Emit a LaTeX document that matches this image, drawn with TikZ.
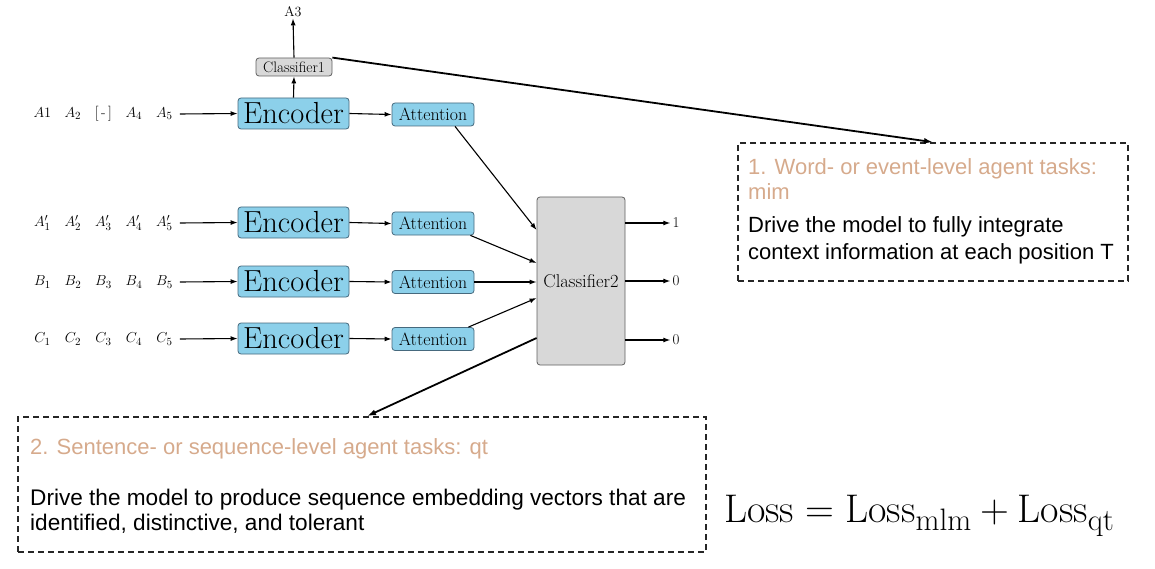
\documentclass[tikz,border=0pt]{standalone}
\usepackage{fontspec}
\newfontfamily\arialf{Liberation Sans}
\usetikzlibrary{arrows.meta,calc}
\definecolor{encblue}{RGB}{140,208,234}
\definecolor{encline}{RGB}{70,105,125}
\definecolor{boxgray}{RGB}{216,216,216}
\definecolor{grayline}{RGB}{95,95,95}
\definecolor{titlecol}{RGB}{214,170,140}
\newcommand\inptok[1]{\makebox[30.5pt]{#1}}
\newcommand\losssub[1]{\raisebox{-0.2em}{\fontsize{31}{33}\selectfont #1}}
\begin{document}
\begin{tikzpicture}[x=1pt,y=-1pt,
  arr/.style={-{Latex[length=7pt,width=5pt]}, line width=1.1pt},
  bigarr/.style={-{Latex[length=9pt,width=6pt]}, line width=1.8pt},
  encbox/.style={draw=encline, fill=encblue, rounded corners=3pt, line width=0.8pt, minimum width=111pt, minimum height=31pt, inner sep=0pt, font=\fontsize{30.5}{32}\selectfont},
  attbox/.style={draw=encline, fill=encblue, rounded corners=3pt, line width=0.8pt, minimum width=82pt, minimum height=23pt, inner sep=0pt, font=\fontsize{17.8}{19}\selectfont},
  clsbox/.style={draw=grayline, fill=boxgray, rounded corners=3pt, line width=0.8pt, inner sep=0pt},
  inrow/.style={anchor=west, inner sep=0pt, font=\fontsize{15}{17}\selectfont},
  outlbl/.style={inner sep=2pt, font=\fontsize{15}{17}\selectfont},
  dbox/.style={draw=black!85, dashed, dash pattern=on 6pt off 4pt, line width=1.7pt, inner sep=0pt},
  ttl/.style={anchor=base west, inner sep=0pt, text=titlecol, font=\arialf\fontsize{22}{26}\selectfont},
  body/.style={anchor=base west, inner sep=0pt, font=\arialf\fontsize{22}{26}\selectfont}
]
\useasboundingbox (0,0) rectangle (1155,569);

% row 1
\node[inrow] (in1) at (27,114) {\inptok{$A1$}\inptok{$A_2$}\inptok{[\,-\,]}\inptok{$A_4$}\inptok{$A_5$}};
\node[encbox] (enc1) at (293.5,113.5) {Encoder};
\node[attbox] (att1) at (433,114.5) {Attention};
\node[clsbox, minimum width=76pt, minimum height=18pt, font=\fontsize{15.2}{16}\selectfont] (cls1) at (294,67) {Classifier1};
\node[inner sep=1pt, font=\fontsize{14}{16}\selectfont] (a3) at (293,12) {A3};

% row 2
\node[inrow] (in2) at (27,223) {\inptok{$A'_1$}\inptok{$A'_2$}\inptok{$A'_3$}\inptok{$A'_4$}\inptok{$A'_5$}};
\node[encbox] (enc2) at (293.5,222.5) {Encoder};
\node[attbox] (att2) at (433,223.5) {Attention};

% row 3
\node[inrow] (in3) at (27,282) {\inptok{$B_1$}\inptok{$B_2$}\inptok{$B_3$}\inptok{$B_4$}\inptok{$B_5$}};
\node[encbox] (enc3) at (293.5,281.5) {Encoder};
\node[attbox] (att3) at (433,282) {Attention};

% row 4
\node[inrow] (in4) at (27,339) {\inptok{$C_1$}\inptok{$C_2$}\inptok{$C_3$}\inptok{$C_4$}\inptok{$C_5$}};
\node[encbox] (enc4) at (293.5,338.5) {Encoder};
\node[attbox] (att4) at (433,339) {Attention};

% classifier 2
\node[clsbox, minimum width=88pt, minimum height=168pt, font=\fontsize{18.5}{20}\selectfont] (cls2) at (581,281) {Classifier2};
\node[outlbl] (o1) at (676,223) {1};
\node[outlbl] (o2) at (676,281) {0};
\node[outlbl] (o3) at (676,340) {0};

% dashed boxes
\node[dbox, minimum width=390pt, minimum height=138pt] (box1) at (933,212) {};
\node[dbox, minimum width=688pt, minimum height=135pt] (box2) at (362,484.5) {};

\node[ttl] (t1a) at (748,175) {1. Word- or event-level agent tasks:};
\node[ttl] (t1b) at (748,200) {mim};
\node[body] (b1a) at (748,233) {Drive the model to fully integrate};
\node[body] (b1b) at (748,259) {context information at each position T};
\node[ttl] (t2) at (30,454) {2. Sentence- or sequence-level agent tasks: qt};
\node[body, font=\arialf\fontsize{22.6}{26}\selectfont] (b2a) at (30,505) {Drive the model to produce sequence embedding vectors that are};
\node[body, font=\arialf\fontsize{22.6}{26}\selectfont] (b2b) at (30,530) {identified, distinctive, and tolerant};

\node[anchor=base west, inner sep=0pt, font=\fontsize{40}{42}\selectfont] (loss) at (724,522) {Loss\hspace{0.28em}=\hspace{0.28em}Loss\losssub{mlm}\hspace{0.22em}+\hspace{0.22em}Loss\losssub{qt}};

% connectors
\foreach \i in {1,2,3,4}{
  \draw[arr] (in\i.east) -- (enc\i.west);
  \draw[arr] (enc\i.east) -- (att\i.west);
}
\draw[arr] (enc1.north) -- (cls1.south);
\draw[arr] (cls1.north) -- (a3.south);
\draw[arr] ([xshift=22pt]att1.south) -- ([yshift=51pt]cls2.west);
\draw[arr] ([xshift=-4pt]att2.south east) -- ([yshift=18pt]cls2.west);
\draw[arr] (att3.east) -- (att3.east -| cls2.west);
\draw[arr] ([xshift=-6pt]att4.north east) -- ([yshift=-17pt]cls2.west);
\draw[arr] (cls2.east |- o1) -- (o1.west);
\draw[arr] (cls2.east |- o2) -- (o2.west);
\draw[arr] (cls2.east |- o3) -- (o3.west);
\draw[bigarr] (cls1.north east) -- (box1.north);
\draw[bigarr] ([yshift=-57pt]cls2.west) -- ([xshift=5pt]box2.north);
\end{tikzpicture}
\end{document}
